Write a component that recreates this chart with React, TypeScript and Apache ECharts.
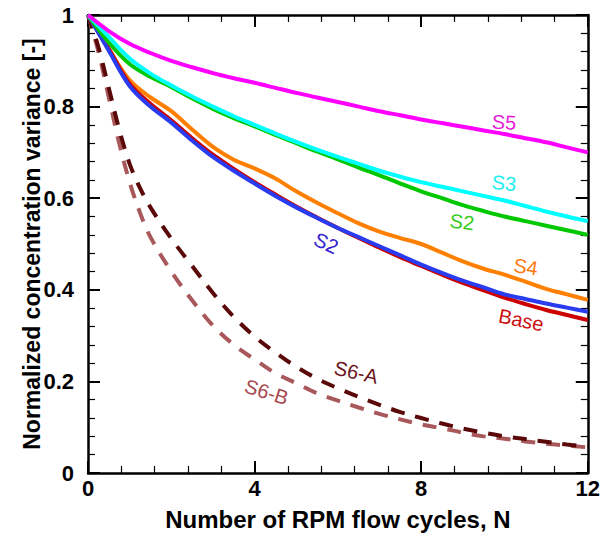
import React, { useEffect, useRef } from "react";
import * as echarts from "echarts";

const xSolid = [0, 0.5, 1, 1.5, 2, 2.5, 3, 3.5, 4, 4.5, 5, 5.5, 6, 6.5, 7, 7.5, 8, 8.5, 9, 9.5, 10, 10.5, 11, 11.5, 12];

const s5 = [1, 0.965, 0.937, 0.917, 0.9, 0.886, 0.873, 0.862, 0.852, 0.841, 0.83, 0.82, 0.81, 0.8, 0.79, 0.781, 0.772, 0.764, 0.756, 0.748, 0.74, 0.731, 0.722, 0.711, 0.7];
const s3 = [1, 0.952, 0.905, 0.872, 0.846, 0.822, 0.8, 0.779, 0.76, 0.741, 0.723, 0.706, 0.69, 0.675, 0.66, 0.647, 0.635, 0.625, 0.615, 0.605, 0.595, 0.583, 0.571, 0.56, 0.55];
const s2g = [1, 0.94, 0.893, 0.865, 0.843, 0.818, 0.795, 0.775, 0.757, 0.738, 0.72, 0.702, 0.685, 0.667, 0.65, 0.632, 0.615, 0.6, 0.585, 0.572, 0.56, 0.55, 0.54, 0.53, 0.52];
const s4 = [1, 0.925, 0.858, 0.82, 0.79, 0.75, 0.712, 0.684, 0.665, 0.643, 0.615, 0.59, 0.567, 0.545, 0.527, 0.513, 0.5, 0.481, 0.462, 0.446, 0.433, 0.418, 0.402, 0.39, 0.378];
const s2b = [1, 0.922, 0.845, 0.8, 0.765, 0.726, 0.69, 0.66, 0.632, 0.605, 0.58, 0.557, 0.535, 0.515, 0.495, 0.475, 0.455, 0.437, 0.42, 0.405, 0.39, 0.38, 0.37, 0.361, 0.352];
const base = [1, 0.926, 0.85, 0.806, 0.77, 0.731, 0.695, 0.664, 0.635, 0.608, 0.582, 0.558, 0.535, 0.513, 0.492, 0.471, 0.452, 0.433, 0.415, 0.399, 0.383, 0.369, 0.356, 0.345, 0.334];

const xDash = [0, 0.25, 0.5, 0.75, 1, 1.25, 1.5, 2, 2.5, 3, 3.5, 4, 4.5, 5, 5.5, 6, 6.5, 7, 7.5, 8, 8.5, 9, 9.5, 10, 10.5, 11, 11.5, 12];
const s6a = [1, 0.93, 0.84, 0.75, 0.675, 0.622, 0.58, 0.512, 0.452, 0.393, 0.341, 0.298, 0.263, 0.232, 0.206, 0.185, 0.166, 0.149, 0.133, 0.12, 0.108, 0.097, 0.088, 0.08, 0.074, 0.068, 0.062, 0.058];
const s6b = [1, 0.92, 0.82, 0.72, 0.635, 0.568, 0.515, 0.44, 0.377, 0.322, 0.28, 0.248, 0.218, 0.196, 0.174, 0.158, 0.143, 0.129, 0.117, 0.106, 0.098, 0.088, 0.08, 0.075, 0.069, 0.064, 0.06, 0.056];

const labelTexts = ["S5", "S3", "S2", "S2", "S4", "Base", "S6-A", "S6-B"];
const labelX = [9.99, 9.99, 8.98, 5.72, 10.51, 10.4, 6.44, 4.29];
const labelY = [0.766, 0.633, 0.548, 0.502, 0.45, 0.334, 0.22, 0.177];
const labelColors = ["#e81fd8", "#22eeee", "#33cc22", "#3322cc", "#ff7a10", "#cc1111", "#6a1520", "#a84850"];
const labelRot = [-0.06, -0.08, -0.12, -0.42, -0.14, -0.2, -0.22, -0.3];

const pairs = (xs: number[], ys: number[]) => xs.map((x, i) => [x, ys[i]]);

export default function App() {
  const ref = useRef<HTMLDivElement>(null);
  useEffect(() => {
    if (!ref.current) return;
    const chart = echarts.init(ref.current, null, { renderer: "svg" });
    const font = "Liberation Sans, Arial, Helvetica, sans-serif";
    const axisCommon = {
      type: "value" as const,
      axisLine: { show: true, onZero: false, lineStyle: { color: "#000", width: 2.5 } },
      axisTick: { show: true, inside: true, length: 12, lineStyle: { color: "#000", width: 2 } },
      minorTick: { show: true, splitNumber: 5, length: 7, lineStyle: { color: "#000", width: 1.2 } },
      splitLine: { show: false },
      minorSplitLine: { show: false },
    };
    const mk = (name: string, xs: number[], ys: number[], color: string, dashed = false) => ({
      name,
      type: "line",
      data: pairs(xs, ys),
      smooth: 0.35,
      symbol: "none",
      lineStyle: { color, width: 4, type: dashed ? [14, 11] : "solid" },
      z: 2,
    });
    chart.setOption({
      animation: false,
      backgroundColor: "#fff",
      grid: { left: 88, right: 14, top: 15, bottom: 64, containLabel: false },
      xAxis: [
        {
          ...axisCommon,
          position: "bottom",
          min: 0,
          max: 12,
          interval: 4,
          name: "Number of RPM flow cycles, N",
          nameLocation: "middle",
          nameMoveOverlap: false,
          nameGap: 34,
          nameTextStyle: { fontFamily: font, fontWeight: "bold", fontSize: 24, color: "#000" },
          axisLabel: { fontFamily: font, fontWeight: "bold", fontSize: 22, color: "#000", margin: 4 },
        },
        {
          ...axisCommon,
          position: "top",
          min: 0,
          max: 12,
          interval: 4,
          axisLabel: { show: false },
        },
      ],
      yAxis: [
        {
          ...axisCommon,
          position: "left",
          min: 0,
          max: 1,
          interval: 0.2,
          name: "Normalized concentration variance [-]",
          nameLocation: "middle",
          nameMoveOverlap: false,
          nameGap: 45,
          nameTextStyle: { fontFamily: font, fontWeight: "bold", fontSize: 23, color: "#000" },
          axisLabel: { fontFamily: font, fontWeight: "bold", fontSize: 22, color: "#000", margin: 14 },
        },
        {
          ...axisCommon,
          position: "right",
          min: 0,
          max: 1,
          interval: 0.2,
          axisLabel: { show: false },
        },
      ],
      series: [
        mk("S6-B", xDash, s6b, "#a8585a", true),
        mk("S6-A", xDash, s6a, "#5a0808", true),
        mk("S4", xSolid, s4, "#ff8000"),
        mk("Base", xSolid, base, "#cc0000"),
        mk("S2b", xSolid, s2b, "#2a3cf0"),
        mk("S2g", xSolid, s2g, "#00c800"),
        mk("S3", xSolid, s3, "#00ffff"),
        mk("S5", xSolid, s5, "#ff00ff"),
      ],
    });
    const graphics = labelTexts.map((t, i) => {
      const p = chart.convertToPixel({ xAxisIndex: 0, yAxisIndex: 0 }, [labelX[i], labelY[i]]) as number[];
      return {
        type: "text",
        x: p[0],
        y: p[1],
        rotation: labelRot[i],
        z: 10,
        style: {
          text: t,
          fill: labelColors[i],
          fontFamily: font,
          fontSize: 20,
          align: "center",
          verticalAlign: "middle",
        },
      };
    });
    chart.setOption({ graphic: graphics });
    return () => chart.dispose();
  }, []);
  return <div ref={ref} style={{ position: "absolute", left: 0, top: 0, width: 603, height: 537 }} />;
}
